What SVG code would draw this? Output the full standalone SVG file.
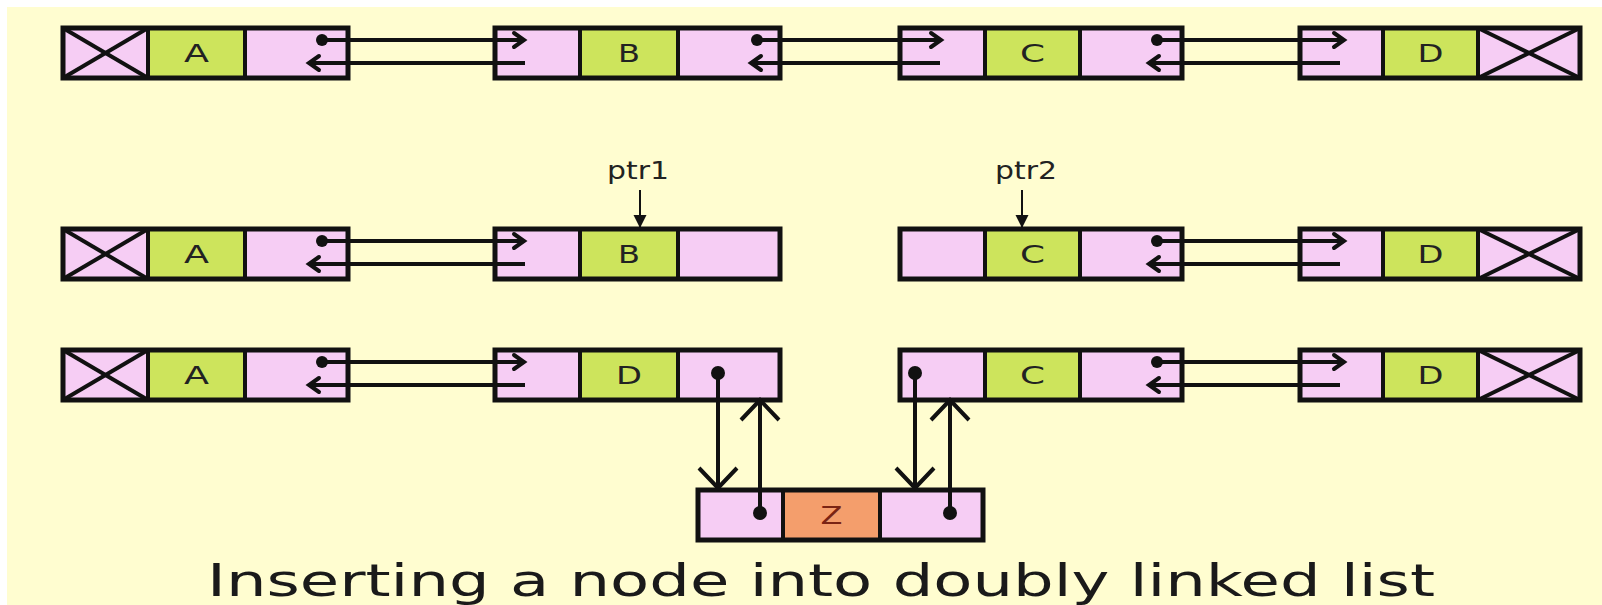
<svg xmlns="http://www.w3.org/2000/svg" width="1602" height="605" viewBox="0 0 1602 605">
<defs>
<style>
.pink{fill:#F6CDF4;stroke:#111;stroke-width:4}
.green{fill:#CDE45C;stroke:#111;stroke-width:4}
.orange{fill:#F49E6C;stroke:#111;stroke-width:4}
.outer{fill:none;stroke:#111;stroke-width:5}
.x{stroke:#111;stroke-width:4}
.lbl{font-family:"DejaVu Sans",Verdana,sans-serif;font-size:24px;fill:#222;text-anchor:middle}
.link{stroke:#111;stroke-width:4;fill:none}
.sm{marker-end:url(#chev)}
.big{marker-end:url(#bigchev)}
.dot{fill:#111}
.ptr{font-family:"DejaVu Sans",Verdana,sans-serif;font-size:25px;fill:#222;text-anchor:middle}
.ptrline{stroke:#111;stroke-width:2;marker-end:url(#tri)}
</style>
<marker id="chev" markerUnits="userSpaceOnUse" viewBox="-12 -10 14 20" refX="0" refY="0" markerWidth="14" markerHeight="20" orient="auto" overflow="visible">
<path d="M-10,-7 L0,0 L-10,7" fill="none" stroke="#111" stroke-width="4" stroke-linecap="round"/>
</marker>
<marker id="bigchev" markerUnits="userSpaceOnUse" viewBox="-22 -22 24 44" refX="0" refY="0" markerWidth="24" markerHeight="44" orient="auto" overflow="visible">
<path d="M-20,-19 L0,0 L-20,19" fill="none" stroke="#111" stroke-width="4"/>
</marker>
<marker id="tri" markerUnits="userSpaceOnUse" viewBox="-13 -7 14 14" refX="0" refY="0" markerWidth="14" markerHeight="14" orient="auto" overflow="visible">
<path d="M0,0 L-13,-6.5 L-13,6.5 Z" fill="#111"/>
</marker>
</defs>
<rect x="0" y="0" width="1602" height="605" fill="#ffffff"/>
<rect x="7" y="7" width="1595" height="598" fill="#FFFDD0"/>

<!-- Row 1 -->
<g id="r1-A">
<rect class="pink" x="63" y="28" width="85" height="50"/>
<line class="x" x1="63" y1="28" x2="148" y2="78"/><line class="x" x1="148" y1="28" x2="63" y2="78"/>
<rect class="green" x="148" y="28" width="97" height="50"/>
<rect class="pink" x="245" y="28" width="103" height="50"/>
<rect class="outer" x="63" y="28" width="285" height="50"/>
<text class="lbl" x="196.5" y="62" textLength="25" lengthAdjust="spacingAndGlyphs">A</text>
</g>
<g id="r1-B">
<rect class="pink" x="495" y="28" width="85" height="50"/>
<rect class="green" x="580" y="28" width="98" height="50"/>
<rect class="pink" x="678" y="28" width="102" height="50"/>
<rect class="outer" x="495" y="28" width="285" height="50"/>
<text class="lbl" x="629" y="62" textLength="22" lengthAdjust="spacingAndGlyphs">B</text>
</g>
<g id="r1-C">
<rect class="pink" x="900" y="28" width="85" height="50"/>
<rect class="green" x="985" y="28" width="95" height="50"/>
<rect class="pink" x="1080" y="28" width="102" height="50"/>
<rect class="outer" x="900" y="28" width="282" height="50"/>
<text class="lbl" x="1032.5" y="62" textLength="25" lengthAdjust="spacingAndGlyphs">C</text>
</g>
<g id="r1-D">
<rect class="pink" x="1300" y="28" width="83" height="50"/>
<rect class="green" x="1383" y="28" width="95" height="50"/>
<rect class="pink" x="1478" y="28" width="102" height="50"/>
<line class="x" x1="1478" y1="28" x2="1580" y2="78"/><line class="x" x1="1580" y1="28" x2="1478" y2="78"/>
<rect class="outer" x="1300" y="28" width="280" height="50"/>
<text class="lbl" x="1430.5" y="62" textLength="26" lengthAdjust="spacingAndGlyphs">D</text>
</g>

<!-- Row 2 -->
<g id="r2-A">
<rect class="pink" x="63" y="229" width="85" height="50"/>
<line class="x" x1="63" y1="229" x2="148" y2="279"/><line class="x" x1="148" y1="229" x2="63" y2="279"/>
<rect class="green" x="148" y="229" width="97" height="50"/>
<rect class="pink" x="245" y="229" width="103" height="50"/>
<rect class="outer" x="63" y="229" width="285" height="50"/>
<text class="lbl" x="196.5" y="263" textLength="25" lengthAdjust="spacingAndGlyphs">A</text>
</g>
<g id="r2-B">
<rect class="pink" x="495" y="229" width="85" height="50"/>
<rect class="green" x="580" y="229" width="98" height="50"/>
<rect class="pink" x="678" y="229" width="102" height="50"/>
<rect class="outer" x="495" y="229" width="285" height="50"/>
<text class="lbl" x="629" y="263" textLength="22" lengthAdjust="spacingAndGlyphs">B</text>
</g>
<g id="r2-C">
<rect class="pink" x="900" y="229" width="85" height="50"/>
<rect class="green" x="985" y="229" width="95" height="50"/>
<rect class="pink" x="1080" y="229" width="102" height="50"/>
<rect class="outer" x="900" y="229" width="282" height="50"/>
<text class="lbl" x="1032.5" y="263" textLength="25" lengthAdjust="spacingAndGlyphs">C</text>
</g>
<g id="r2-D">
<rect class="pink" x="1300" y="229" width="83" height="50"/>
<rect class="green" x="1383" y="229" width="95" height="50"/>
<rect class="pink" x="1478" y="229" width="102" height="50"/>
<line class="x" x1="1478" y1="229" x2="1580" y2="279"/><line class="x" x1="1580" y1="229" x2="1478" y2="279"/>
<rect class="outer" x="1300" y="229" width="280" height="50"/>
<text class="lbl" x="1430.5" y="263" textLength="26" lengthAdjust="spacingAndGlyphs">D</text>
</g>
<g id="ptr1">
<text class="ptr" x="638" y="179" textLength="62" lengthAdjust="spacingAndGlyphs">ptr1</text>
<line class="ptrline" x1="640" y1="190" x2="640" y2="228"/>
</g>
<g id="ptr2">
<text class="ptr" x="1026" y="179" textLength="62" lengthAdjust="spacingAndGlyphs">ptr2</text>
<line class="ptrline" x1="1022" y1="190" x2="1022" y2="228"/>
</g>

<!-- Row 3 -->
<g id="r3-A">
<rect class="pink" x="63" y="350" width="85" height="50"/>
<line class="x" x1="63" y1="350" x2="148" y2="400"/><line class="x" x1="148" y1="350" x2="63" y2="400"/>
<rect class="green" x="148" y="350" width="97" height="50"/>
<rect class="pink" x="245" y="350" width="103" height="50"/>
<rect class="outer" x="63" y="350" width="285" height="50"/>
<text class="lbl" x="196.5" y="384" textLength="25" lengthAdjust="spacingAndGlyphs">A</text>
</g>
<g id="r3-D1">
<rect class="pink" x="495" y="350" width="85" height="50"/>
<rect class="green" x="580" y="350" width="98" height="50"/>
<rect class="pink" x="678" y="350" width="102" height="50"/>
<rect class="outer" x="495" y="350" width="285" height="50"/>
<text class="lbl" x="629" y="384" textLength="26" lengthAdjust="spacingAndGlyphs">D</text>
</g>
<g id="r3-C">
<rect class="pink" x="900" y="350" width="85" height="50"/>
<rect class="green" x="985" y="350" width="95" height="50"/>
<rect class="pink" x="1080" y="350" width="102" height="50"/>
<rect class="outer" x="900" y="350" width="282" height="50"/>
<text class="lbl" x="1032.5" y="384" textLength="25" lengthAdjust="spacingAndGlyphs">C</text>
</g>
<g id="r3-D">
<rect class="pink" x="1300" y="350" width="83" height="50"/>
<rect class="green" x="1383" y="350" width="95" height="50"/>
<rect class="pink" x="1478" y="350" width="102" height="50"/>
<line class="x" x1="1478" y1="350" x2="1580" y2="400"/><line class="x" x1="1580" y1="350" x2="1478" y2="400"/>
<rect class="outer" x="1300" y="350" width="280" height="50"/>
<text class="lbl" x="1430.5" y="384" textLength="26" lengthAdjust="spacingAndGlyphs">D</text>
</g>

<!-- New node Z -->
<g id="z">
<rect class="pink" x="698" y="490" width="85" height="50"/>
<rect class="orange" x="783" y="490" width="97" height="50"/>
<rect class="pink" x="880" y="490" width="103" height="50"/>
<rect class="outer" x="698" y="490" width="285" height="50"/>
<text class="lbl" x="831.5" y="524" textLength="22" lengthAdjust="spacingAndGlyphs" style="fill:#7a2414">Z</text>
</g>

<!-- Connectors -->
<g id="connectors">
<!-- row 1 -->
<circle class="dot" cx="322" cy="40" r="6"/>
<path class="link sm" d="M322,40 H524"/>
<path class="link sm" d="M525,63 H309"/>
<circle class="dot" cx="757" cy="40" r="6"/>
<path class="link sm" d="M757,40 H941"/>
<path class="link sm" d="M940,63 H751"/>
<circle class="dot" cx="1157" cy="40" r="6"/>
<path class="link sm" d="M1157,40 H1344"/>
<path class="link sm" d="M1340,63 H1149"/>
<!-- row 2 -->
<circle class="dot" cx="322" cy="241" r="6"/>
<path class="link sm" d="M322,241 H524"/>
<path class="link sm" d="M525,264 H309"/>
<circle class="dot" cx="1157" cy="241" r="6"/>
<path class="link sm" d="M1157,241 H1344"/>
<path class="link sm" d="M1340,264 H1149"/>
<!-- row 3 -->
<circle class="dot" cx="322" cy="362" r="6"/>
<path class="link sm" d="M322,362 H524"/>
<path class="link sm" d="M525,385 H309"/>
<circle class="dot" cx="1157" cy="362" r="6"/>
<path class="link sm" d="M1157,362 H1344"/>
<path class="link sm" d="M1340,385 H1149"/>
<!-- Z links -->
<circle class="dot" cx="718" cy="373" r="7"/>
<path class="link big" d="M718,373 V488"/>
<circle class="dot" cx="760" cy="513" r="7"/>
<path class="link big" d="M760,513 V400"/>
<circle class="dot" cx="915" cy="373" r="7"/>
<path class="link big" d="M915,373 V488"/>
<circle class="dot" cx="950" cy="513" r="7"/>
<path class="link big" d="M950,513 V400"/>
</g>

<text x="207" y="596" font-family="'DejaVu Sans',Verdana,sans-serif" font-size="44" fill="#1a1a1a" textLength="1228" lengthAdjust="spacingAndGlyphs">Inserting a node into doubly linked list</text>
</svg>
